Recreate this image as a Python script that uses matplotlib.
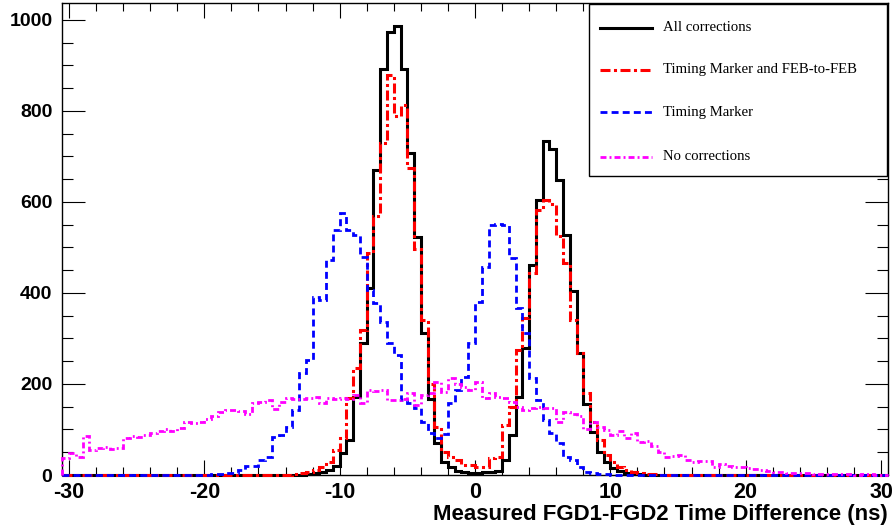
import numpy as np
import matplotlib
matplotlib.use('Agg')
from matplotlib import pyplot as plt
from matplotlib.ticker import MultipleLocator
from matplotlib.patches import Rectangle

plt.rcParams['font.family'] = ['Liberation Sans', 'DejaVu Sans']
plt.rcParams['lines.scale_dashes'] = False

# histogram binning (ns)
bin_width = 0.5
x_min, x_max = -30.5, 30.5

# counts per 0.5 ns bin, starting at the given left edge; bins outside are empty
all_start = -13.0
all_counts = [1, 2, 4, 6, 12, 20, 48, 77, 172, 291,
              411, 670, 892, 974, 987, 892, 708, 523, 312, 166,
              70, 29, 18, 9, 6, 5, 5, 6, 7, 9,
              33, 88, 171, 278, 461, 605, 733, 717, 648, 528,
              404, 269, 156, 94, 50, 28, 15, 8, 5, 3,
              2, 1]

tm_feb_start = -14.0
tm_feb_counts = [1, 2, 4, 6, 11, 18, 29, 55, 81, 169,
                 235, 319, 487, 568, 730, 879, 788, 813, 675, 497,
                 340, 200, 105, 50, 40, 33, 22, 22, 18, 18,
                 37, 40, 110, 150, 275, 345, 444, 582, 604, 595,
                 524, 466, 340, 268, 180, 117, 77, 44, 29, 18,
                 11, 6, 4, 3, 2, 1]

tm_start = -20.0
tm_counts = [1, 2, 3, 5, 5, 11, 20, 20, 34, 40,
             84, 88, 106, 143, 224, 253, 392, 385, 473, 538,
             576, 538, 527, 480, 407, 378, 337, 290, 264, 165,
             158, 147, 117, 92, 81, 90, 158, 187, 216, 290,
             381, 458, 549, 552, 549, 477, 367, 312, 213, 165,
             121, 92, 70, 40, 33, 18, 7, 4, 3, 2,
             1]

nocorr_start = -30.5
nocorr_counts = [37, 48, 40, 86, 55, 59, 62, 57, 60, 81,
                 86, 84, 88, 92, 97, 100, 97, 104, 117, 115,
                 117, 122, 130, 139, 143, 143, 140, 135, 158, 160,
                 165, 145, 160, 170, 168, 168, 170, 171, 158, 170,
                 168, 169, 167, 176, 158, 187, 185, 187, 165, 165,
                 168, 180, 154, 175, 180, 205, 183, 213, 200, 194,
                 187, 205, 169, 180, 172, 170, 161, 150, 143, 147,
                 150, 147, 147, 117, 139, 135, 130, 101, 117, 105,
                 99, 88, 97, 81, 93, 73, 75, 64, 51, 40,
                 42, 44, 33, 29, 31, 31, 18, 24, 20, 18,
                 18, 15, 14, 12, 8, 7, 6, 5, 5, 4,
                 4, 3, 2, 2, 3, 2, 2, 1, 2, 2,
                 1, 1]

labels = ['All corrections', 'Timing Marker and FEB-to-FEB',
          'Timing Marker', 'No corrections']
x_ticks = [-30, -20, -10, 0, 10, 20, 30]
y_ticks = [0, 200, 400, 600, 800, 1000]

edges = np.arange(x_min, x_max + bin_width / 2, bin_width)


def full(start, counts):
    h = np.zeros(len(edges) - 1)
    i = int(round((start - x_min) / bin_width))
    h[i:i + len(counts)] = counts
    return h


hists = [full(all_start, all_counts), full(tm_feb_start, tm_feb_counts),
         full(tm_start, tm_counts), full(nocorr_start, nocorr_counts)]
colors = ['black', 'red', 'blue', 'magenta']
styles = ['-', (0, (7.2, 2.5, 2.2, 2.5)), (0, (5.0, 3.0)), (0, (4.3, 2.2, 1.4, 2.2))]
widths = [2.2, 2.2, 2.0, 2.0]

fig = plt.figure(figsize=(8.95, 5.27), dpi=100)
ax = fig.add_axes([62.2 / 895, 52 / 527, 825.6 / 895, 471.7 / 527])

for k in range(4):
    ax.stairs(hists[k], edges, color=colors[k], linestyle=styles[k],
              lw=widths[k], clip_on=False, zorder=3 + k)

ax.set_xlim(x_min, x_max)
ax.set_ylim(0, 1.05 * max(all_counts))

# ROOT style axes: ticks inside on all four sides
ax.set_xticks(x_ticks)
ax.set_xticklabels([str(t) for t in x_ticks], fontweight='bold')
ax.set_yticks(y_ticks)
ax.set_yticklabels([str(t) for t in y_ticks], fontweight='bold')
ax.xaxis.set_minor_locator(MultipleLocator(2))
ax.yaxis.set_minor_locator(MultipleLocator(50))
ax.tick_params(which='both', direction='in', top=True, right=True, width=0.8)
ax.tick_params(axis='x', which='major', length=10.8, labelsize=15.5, pad=5)
ax.tick_params(axis='x', which='minor', length=5.5)
ax.tick_params(axis='y', which='major', length=16.5, labelsize=14, pad=7)
ax.tick_params(axis='y', which='minor', length=8)
for s in ax.spines.values():
    s.set_linewidth(1.0)

ax.set_xlabel('Measured FGD1-FGD2 Time Difference (ns)', loc='right',
              fontweight='bold', fontsize=16, labelpad=1)

# legend box drawn by hand, ROOT TLegend look
ax.add_patch(Rectangle((0.638, 0.634), 0.3615, 0.3645, transform=ax.transAxes,
                       facecolor='white', edgecolor='black', lw=1.0,
                       zorder=10, clip_on=False))
rows = [0.9485, 0.8595, 0.7685, 0.6750]
for k in range(4):
    ax.plot([0.6514, 0.7144], [rows[k], rows[k]], transform=ax.transAxes,
            color=colors[k], linestyle=styles[k], lw=widths[k], zorder=11)
    ax.text(0.7275, rows[k], labels[k], transform=ax.transAxes, va='center',
            family='Liberation Serif', fontsize=10.6, zorder=11)

plt.savefig('out.png', dpi=100)
